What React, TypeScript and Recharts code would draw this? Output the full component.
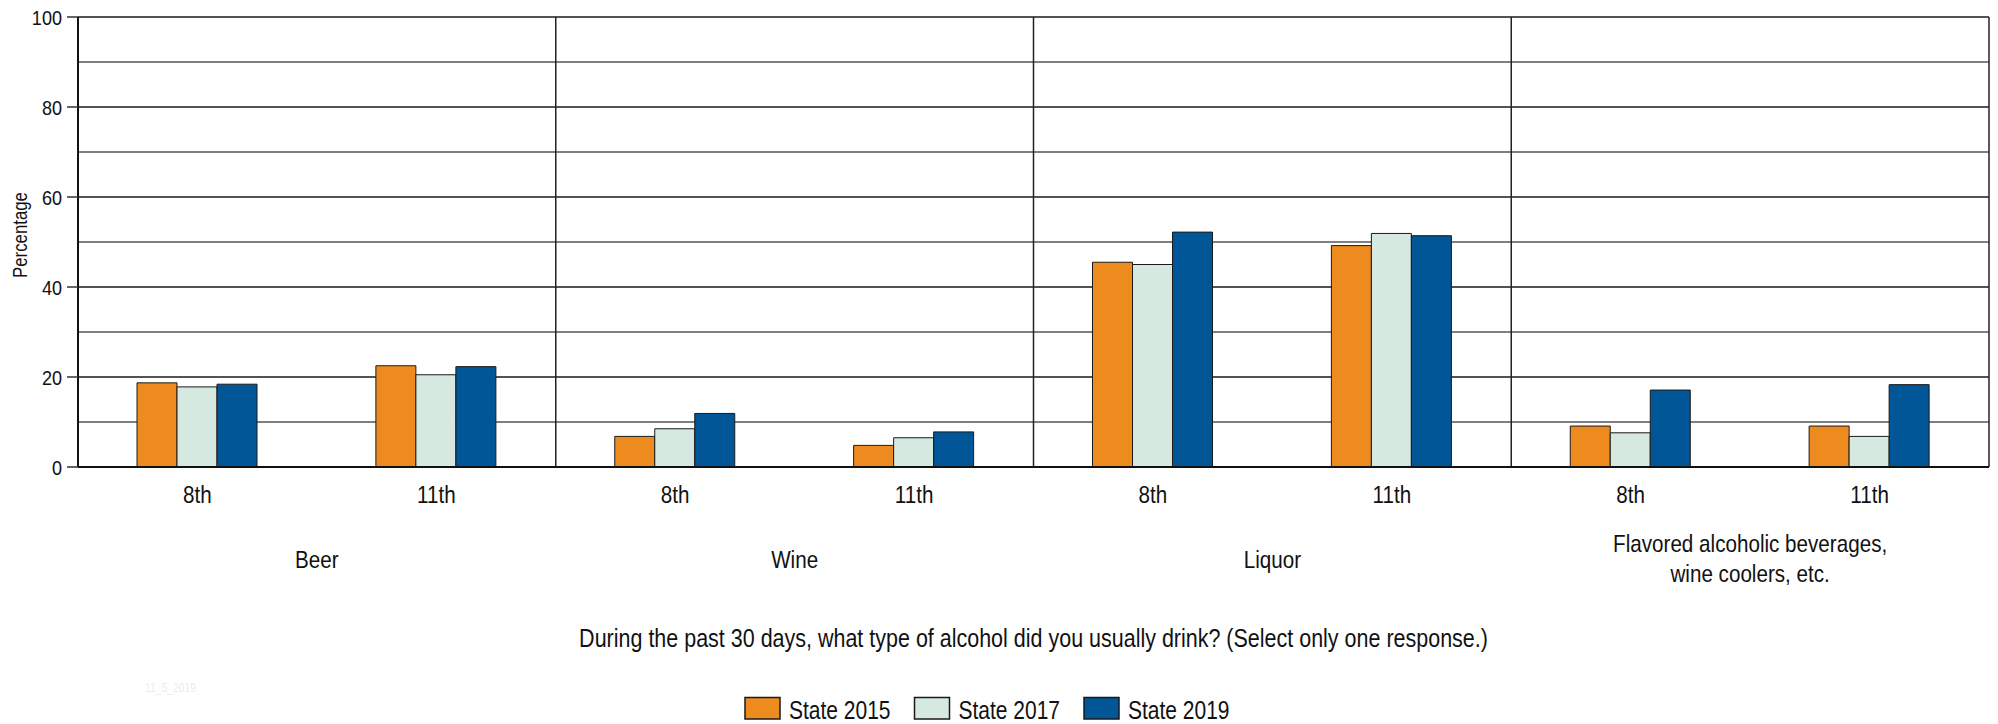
import React from 'react';
import { BarChart, Bar, XAxis, YAxis, CartesianGrid, ReferenceLine } from 'recharts';

// ---------- data ----------
const GROUPS = ['Beer', 'Wine', 'Liquor', 'Flavored alcoholic beverages,|wine coolers, etc.'];
const GRADES = ['8th', '11th'];
const STATE_2015 = [18.7, 22.5, 6.8, 4.8, 45.5, 49.2, 9.1, 9.1];
const STATE_2017 = [17.8, 20.5, 8.5, 6.5, 45.0, 51.9, 7.6, 6.8];
const STATE_2019 = [18.4, 22.3, 11.9, 7.8, 52.2, 51.4, 17.1, 18.3];
const SERIES_NAMES = ['State 2015', 'State 2017', 'State 2019'];
const Y_TICKS = [0, 10, 20, 30, 40, 50, 60, 70, 80, 90, 100];
const Y_LABELED = [0, 20, 40, 60, 80, 100];
const Y_TITLE = 'Percentage';
const X_TITLE = 'During the past 30 days, what type of alcohol did you usually drink? (Select only one response.)';
const WATERMARK = '11_5_2019';

// ---------- styles ----------
const COLORS = ['#ED8B1F', '#D6E9E0', '#015697'];
const FONT = '"Liberation Sans", Arial, Helvetica, sans-serif';
const SX = 0.86; // horizontal condensing to mimic a narrow face
const W = 1998;
const H = 724;
const Y_W = 78;
const M_RIGHT = 9;
const M_TOP = 17;
const AX0_H = 10;
const AX_GRADE_H = 60;
const AX_GROUP_H = 80;
const PLOT_BOTTOM = 467;
const M_BOTTOM = H - PLOT_BOTTOM - AX0_H - AX_GRADE_H - AX_GROUP_H;

const KEYS = ['s2015', 's2017', 's2019'];
const rows = GROUPS.flatMap((g, gi) =>
  GRADES.map((gr, ri) => {
    const i = gi * GRADES.length + ri;
    return {
      pos: i + 0.5,
      group: gi,
      grade: gr,
      s2015: STATE_2015[i],
      s2017: STATE_2017[i],
      s2019: STATE_2019[i],
    };
  })
);
const N = rows.length;
const BOUNDARIES = Array.from({ length: N + 1 }, (_, i) => i);
const GROUP_DIVIDERS = GROUPS.map((_, gi) => (gi + 1) * GRADES.length);
const GROUP_CENTERS = GROUPS.map((_, gi) => gi * GRADES.length + GRADES.length / 2);

type NTextProps = {
  x: number;
  y: number;
  size: number;
  anchor?: 'start' | 'middle' | 'end';
  dy?: string;
  rotate?: number;
  sx?: number;
  fill?: string;
  children: React.ReactNode;
};
const NText = ({ x, y, size, anchor = 'start', dy, rotate, sx = SX, fill = '#111', children }: NTextProps) => (
  <text
    transform={`translate(${x} ${y})${rotate ? ` rotate(${rotate})` : ''} scale(${sx} 1)`}
    x={0}
    y={0}
    dy={dy}
    textAnchor={anchor}
    fontSize={size}
    fontFamily={FONT}
    fill={fill}
  >
    {children}
  </text>
);

const YTick = (props: any) => {
  const { y, payload } = props;
  const v = payload?.value;
  if (!Y_LABELED.includes(v)) return <g />;
  return (
    <g>
      <line x1={Y_W - 11} x2={Y_W} y1={y} y2={y} stroke="#333" strokeWidth={1.5} />
      <NText x={Y_W - 16} y={y} dy="0.36em" anchor="end" size={21}>
        {v}
      </NText>
    </g>
  );
};

const GradeTick = (props: any) => {
  const { x, y, payload } = props;
  const row = rows.find((r) => r.pos === payload?.value);
  return (
    <NText x={x} y={y + 26} anchor="middle" size={24}>
      {row ? row.grade : ''}
    </NText>
  );
};

const GroupTick = (props: any) => {
  const { x, y, payload } = props;
  const gi = GROUP_CENTERS.indexOf(payload?.value);
  const lines = gi >= 0 ? GROUPS[gi].split('|') : [];
  const dys = lines.length > 1 ? [15, 45] : [31];
  return (
    <g>
      {lines.map((l, i) => (
        <NText key={i} x={x} y={y + dys[i]} anchor="middle" size={24}>
          {l}
        </NText>
      ))}
    </g>
  );
};

const gridLine = (p: any) => (
  <line
    key={p.key ?? `h-${p.index}`}
    x1={p.x1}
    y1={p.y1}
    x2={p.x2}
    y2={p.y2}
    stroke={p.index % 2 === 0 ? '#1a1a1a' : '#555'}
    strokeWidth={1.5}
  />
);

const LEG_X = 745;
const LEG_PERIOD = 169.5;
const PLOT_CX = (Y_W + (W - M_RIGHT)) / 2;

export default function App() {
  return (
    <div style={{ position: 'absolute', left: 0, top: 0, width: W, height: H, background: '#fff' }}>
      <BarChart
        width={W}
        height={H}
        data={rows}
        margin={{ top: M_TOP, right: M_RIGHT, bottom: M_BOTTOM, left: 0 }}
        barGap={0}
        style={{ fontFamily: FONT }}
      >
        <CartesianGrid vertical={false} horizontal={gridLine} />
        <XAxis
          dataKey="pos"
          type="number"
          domain={[0, N]}
          ticks={BOUNDARIES}
          interval={0}
          tick={false}
          tickSize={10}
          height={AX0_H}
          axisLine={{ stroke: '#111', strokeWidth: 2 }}
          tickLine={{ stroke: '#333', strokeWidth: 1.5 }}
        />
        <XAxis
          xAxisId="grade"
          dataKey="pos"
          type="number"
          domain={[0, N]}
          ticks={rows.map((r) => r.pos)}
          interval={0}
          axisLine={false}
          tickLine={false}
          tickSize={0}
          tickMargin={0}
          height={AX_GRADE_H}
          tick={<GradeTick />}
        />
        <XAxis
          xAxisId="group"
          dataKey="pos"
          type="number"
          domain={[0, N]}
          ticks={GROUP_CENTERS}
          interval={0}
          axisLine={false}
          tickLine={false}
          tickSize={0}
          tickMargin={0}
          height={AX_GROUP_H}
          tick={<GroupTick />}
        />
        <YAxis
          type="number"
          domain={[0, 100]}
          ticks={Y_TICKS}
          interval={0}
          width={Y_W}
          tickLine={false}
          tickSize={11}
          tickMargin={5}
          axisLine={{ stroke: '#111', strokeWidth: 2 }}
          tick={<YTick />}
          label={{
            content: (p: any) => {
              const vb = p.viewBox || { x: 0, y: M_TOP, height: PLOT_BOTTOM - M_TOP };
              const cx = vb.x + 20;
              const cy = vb.y + vb.height / 2 - 7;
              return (
                <NText x={cx} y={cy} rotate={-90} anchor="middle" dy="0.36em" size={20} sx={0.84}>
                  {Y_TITLE}
                </NText>
              );
            },
          }}
        />
        {GROUP_DIVIDERS.map((d) => (
          <ReferenceLine key={d} x={d} stroke="#222" strokeWidth={1.5} />
        ))}
        {KEYS.map((k, i) => (
          <Bar
            key={k}
            dataKey={k}
            name={SERIES_NAMES[i]}
            fill={COLORS[i]}
            stroke="#1a1a1a"
            strokeWidth={1}
            barSize={40}
            isAnimationActive={false}
          />
        ))}
      </BarChart>
      <svg
        width={W}
        height={H}
        style={{ position: 'absolute', left: 0, top: 0, pointerEvents: 'none' }}
      >
        <NText x={PLOT_CX} y={647} anchor="middle" size={25} sx={0.86}>
          {X_TITLE}
        </NText>
        <NText x={145} y={692} size={12} fill="#ececec">
          {WATERMARK}
        </NText>
        {SERIES_NAMES.map((n, i) => (
          <g key={n}>
            <rect
              x={LEG_X + i * LEG_PERIOD}
              y={697.5}
              width={35}
              height={21.5}
              fill={COLORS[i]}
              stroke="#1a1a1a"
              strokeWidth={1.5}
            />
            <NText x={LEG_X + i * LEG_PERIOD + 44} y={719} size={25} sx={0.84}>
              {n}
            </NText>
          </g>
        ))}
      </svg>
    </div>
  );
}
